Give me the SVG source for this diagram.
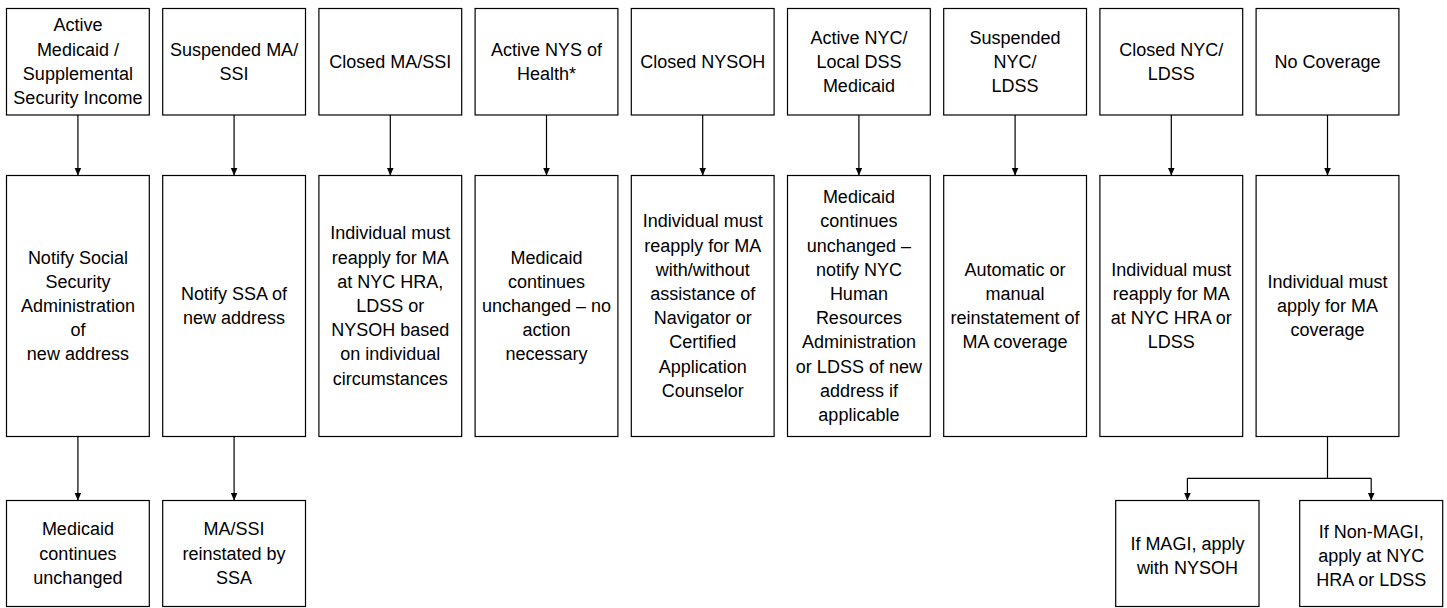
<svg xmlns="http://www.w3.org/2000/svg" width="1447" height="608" viewBox="0 0 1447 608">
<style>
.box{fill:#fff;stroke:#000;stroke-width:1.2}
.t{font-family:"Liberation Sans",Arial,sans-serif;font-size:18px;fill:#000;text-anchor:middle}
.c{fill:none;stroke:#000;stroke-width:1.2}
</style>
<defs>
<marker id="ah" markerUnits="userSpaceOnUse" markerWidth="8" markerHeight="8" refX="8" refY="3.5" orient="auto">
<path d="M0,0 L8,3.5 L0,7 z" fill="#000"/>
</marker>
</defs>
<rect width="1447" height="608" fill="#fff"/>
<g id="connectors">
<line class="c" x1="77.9" y1="115" x2="77.9" y2="175.5" marker-end="url(#ah)"/>
<line class="c" x1="234.1" y1="115" x2="234.1" y2="175.5" marker-end="url(#ah)"/>
<line class="c" x1="390.3" y1="115" x2="390.3" y2="175.5" marker-end="url(#ah)"/>
<line class="c" x1="546.5" y1="115" x2="546.5" y2="175.5" marker-end="url(#ah)"/>
<line class="c" x1="702.7" y1="115" x2="702.7" y2="175.5" marker-end="url(#ah)"/>
<line class="c" x1="858.9" y1="115" x2="858.9" y2="175.5" marker-end="url(#ah)"/>
<line class="c" x1="1015.1" y1="115" x2="1015.1" y2="175.5" marker-end="url(#ah)"/>
<line class="c" x1="1171.3" y1="115" x2="1171.3" y2="175.5" marker-end="url(#ah)"/>
<line class="c" x1="1327.5" y1="115" x2="1327.5" y2="175.5" marker-end="url(#ah)"/>
<line class="c" x1="77.9" y1="436.5" x2="77.9" y2="500.5" marker-end="url(#ah)"/>
<line class="c" x1="234.1" y1="436.5" x2="234.1" y2="500.5" marker-end="url(#ah)"/>
<path class="c" d="M1327.5,436.5 V478.3 M1187.4,478.3 H1371.2"/>
<line class="c" x1="1187.4" y1="478.3" x2="1187.4" y2="500.5" marker-end="url(#ah)"/>
<line class="c" x1="1371.2" y1="478.3" x2="1371.2" y2="500.5" marker-end="url(#ah)"/>
</g>
<g id="top1"><rect class="box" x="6.5" y="8.5" width="142.8" height="106.5"/>
<text class="t"><tspan x="77.9" y="31.45">Active</tspan><tspan x="77.9" y="55.65">Medicaid /</tspan><tspan x="77.9" y="79.85">Supplemental</tspan><tspan x="77.9" y="104.05">Security Income</tspan></text></g>
<g id="top2"><rect class="box" x="162.7" y="8.5" width="142.8" height="106.5"/>
<text class="t"><tspan x="234.1" y="55.65">Suspended MA/</tspan><tspan x="234.1" y="79.85">SSI</tspan></text></g>
<g id="top3"><rect class="box" x="318.9" y="8.5" width="142.8" height="106.5"/>
<text class="t"><tspan x="390.3" y="67.75">Closed MA/SSI</tspan></text></g>
<g id="top4"><rect class="box" x="475.1" y="8.5" width="142.8" height="106.5"/>
<text class="t"><tspan x="546.5" y="55.65">Active NYS of</tspan><tspan x="546.5" y="79.85">Health*</tspan></text></g>
<g id="top5"><rect class="box" x="631.3" y="8.5" width="142.8" height="106.5"/>
<text class="t"><tspan x="702.7" y="67.75">Closed NYSOH</tspan></text></g>
<g id="top6"><rect class="box" x="787.5" y="8.5" width="142.8" height="106.5"/>
<text class="t"><tspan x="858.9" y="43.55">Active NYC/</tspan><tspan x="858.9" y="67.75">Local DSS</tspan><tspan x="858.9" y="91.95">Medicaid</tspan></text></g>
<g id="top7"><rect class="box" x="943.7" y="8.5" width="142.8" height="106.5"/>
<text class="t"><tspan x="1015.1" y="43.55">Suspended</tspan><tspan x="1015.1" y="67.75">NYC/</tspan><tspan x="1015.1" y="91.95">LDSS</tspan></text></g>
<g id="top8"><rect class="box" x="1099.9" y="8.5" width="142.8" height="106.5"/>
<text class="t"><tspan x="1171.3" y="55.65">Closed NYC/</tspan><tspan x="1171.3" y="79.85">LDSS</tspan></text></g>
<g id="top9"><rect class="box" x="1256.1" y="8.5" width="142.8" height="106.5"/>
<text class="t"><tspan x="1327.5" y="67.75">No Coverage</tspan></text></g>

<g id="mid1"><rect class="box" x="6.5" y="175.5" width="142.8" height="261"/>
<text class="t"><tspan x="77.9" y="263.6">Notify Social</tspan><tspan x="77.9" y="287.8">Security</tspan><tspan x="77.9" y="312">Administration</tspan><tspan x="77.9" y="336.2">of</tspan><tspan x="77.9" y="360.4">new address</tspan></text></g>
<g id="mid2"><rect class="box" x="162.7" y="175.5" width="142.8" height="261"/>
<text class="t"><tspan x="234.1" y="299.9">Notify SSA of</tspan><tspan x="234.1" y="324.1">new address</tspan></text></g>
<g id="mid3"><rect class="box" x="318.9" y="175.5" width="142.8" height="261"/>
<text class="t"><tspan x="390.3" y="239.4">Individual must</tspan><tspan x="390.3" y="263.6">reapply for MA</tspan><tspan x="390.3" y="287.8">at NYC HRA,</tspan><tspan x="390.3" y="312">LDSS or</tspan><tspan x="390.3" y="336.2">NYSOH based</tspan><tspan x="390.3" y="360.4">on individual</tspan><tspan x="390.3" y="384.6">circumstances</tspan></text></g>
<g id="mid4"><rect class="box" x="475.1" y="175.5" width="142.8" height="261"/>
<text class="t"><tspan x="546.5" y="263.6">Medicaid</tspan><tspan x="546.5" y="287.8">continues</tspan><tspan x="546.5" y="312">unchanged – no</tspan><tspan x="546.5" y="336.2">action</tspan><tspan x="546.5" y="360.4">necessary</tspan></text></g>
<g id="mid5"><rect class="box" x="631.3" y="175.5" width="142.8" height="261"/>
<text class="t"><tspan x="702.7" y="227.3">Individual must</tspan><tspan x="702.7" y="251.5">reapply for MA</tspan><tspan x="702.7" y="275.7">with/without</tspan><tspan x="702.7" y="299.9">assistance of</tspan><tspan x="702.7" y="324.1">Navigator or</tspan><tspan x="702.7" y="348.3">Certified</tspan><tspan x="702.7" y="372.5">Application</tspan><tspan x="702.7" y="396.7">Counselor</tspan></text></g>
<g id="mid6"><rect class="box" x="787.5" y="175.5" width="142.8" height="261"/>
<text class="t"><tspan x="858.9" y="203.1">Medicaid</tspan><tspan x="858.9" y="227.3">continues</tspan><tspan x="858.9" y="251.5">unchanged –</tspan><tspan x="858.9" y="275.7">notify NYC</tspan><tspan x="858.9" y="299.9">Human</tspan><tspan x="858.9" y="324.1">Resources</tspan><tspan x="858.9" y="348.3">Administration</tspan><tspan x="858.9" y="372.5">or LDSS of new</tspan><tspan x="858.9" y="396.7">address if</tspan><tspan x="858.9" y="420.9">applicable</tspan></text></g>
<g id="mid7"><rect class="box" x="943.7" y="175.5" width="142.8" height="261"/>
<text class="t"><tspan x="1015.1" y="275.7">Automatic or</tspan><tspan x="1015.1" y="299.9">manual</tspan><tspan x="1015.1" y="324.1">reinstatement of</tspan><tspan x="1015.1" y="348.3">MA coverage</tspan></text></g>
<g id="mid8"><rect class="box" x="1099.9" y="175.5" width="142.8" height="261"/>
<text class="t"><tspan x="1171.3" y="275.7">Individual must</tspan><tspan x="1171.3" y="299.9">reapply for MA</tspan><tspan x="1171.3" y="324.1">at NYC HRA or</tspan><tspan x="1171.3" y="348.3">LDSS</tspan></text></g>
<g id="mid9"><rect class="box" x="1256.1" y="175.5" width="142.8" height="261"/>
<text class="t"><tspan x="1327.5" y="287.8">Individual must</tspan><tspan x="1327.5" y="312">apply for MA</tspan><tspan x="1327.5" y="336.2">coverage</tspan></text></g>

<g id="bot1"><rect class="box" x="6.5" y="500.5" width="142.8" height="106"/>
<text class="t"><tspan x="77.9" y="535.3">Medicaid</tspan><tspan x="77.9" y="559.5">continues</tspan><tspan x="77.9" y="583.7">unchanged</tspan></text></g>
<g id="bot2"><rect class="box" x="162.7" y="500.5" width="142.8" height="106"/>
<text class="t"><tspan x="234.1" y="535.3">MA/SSI</tspan><tspan x="234.1" y="559.5">reinstated by</tspan><tspan x="234.1" y="583.7">SSA</tspan></text></g>
<g id="botA"><rect class="box" x="1115.7" y="500.5" width="143.3" height="106"/>
<text class="t"><tspan x="1187.4" y="549.7">If MAGI, apply</tspan><tspan x="1187.4" y="573.9">with NYSOH</tspan></text></g>
<g id="botB"><rect class="box" x="1299.7" y="500.5" width="143" height="106"/>
<text class="t"><tspan x="1371.2" y="537.6">If Non-MAGI,</tspan><tspan x="1371.2" y="561.8">apply at NYC</tspan><tspan x="1371.2" y="586">HRA or LDSS</tspan></text></g>
</svg>
